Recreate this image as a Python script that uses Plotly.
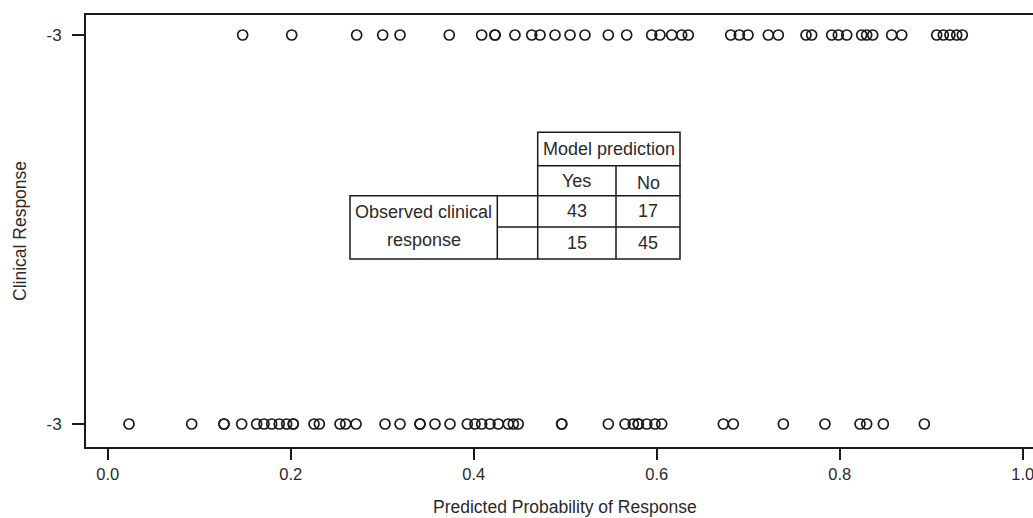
import plotly.graph_objects as go

# ---------------- data ----------------
# predicted probability of response, observed responders (top row)
responders_prob = [0.1475, 0.2011, 0.2721, 0.3005, 0.3195, 0.3733, 0.4087, 0.4233, 0.4233,
                   0.4451, 0.4634, 0.4725, 0.4889, 0.5053, 0.5216, 0.5471, 0.5672, 0.5945,
                   0.6036, 0.6164, 0.6273, 0.6345, 0.6809, 0.6903, 0.6998, 0.7220, 0.7329,
                   0.7632, 0.7694, 0.7913, 0.7985, 0.8077, 0.8240, 0.8295, 0.8361, 0.8568,
                   0.8678, 0.9060, 0.9132, 0.9205, 0.9279, 0.9340]
# predicted probability of response, observed non-responders (bottom row)
nonresponders_prob = [0.0233, 0.0918, 0.1271, 0.1271, 0.1464, 0.1628, 0.1708, 0.1792, 0.1875,
                      0.1956, 0.2028, 0.2028, 0.2255, 0.2313, 0.2539, 0.2601, 0.2714, 0.3031,
                      0.3195, 0.3413, 0.3413, 0.3577, 0.3741, 0.3930, 0.4014, 0.4087, 0.4178,
                      0.4269, 0.4378, 0.4433, 0.4487, 0.4962, 0.4962, 0.5471, 0.5654, 0.5744,
                      0.5799, 0.5799, 0.5891, 0.5981, 0.6055, 0.6728, 0.6837, 0.7384, 0.7839,
                      0.8222, 0.8295, 0.8477, 0.8925]
row_values = [1, 0]              # y level of responders / non-responders
y_tick_labels = ["-3", "-3"]
x_tick_values = [0.0, 0.2, 0.4, 0.6, 0.8, 1.0]
x_tick_labels = ["0.0", "0.2", "0.4", "0.6", "0.8", "1.0"]

table_header = "Model prediction"
table_cols = ["Yes", "No"]
table_row_label = ["Observed clinical", "response"]
table_counts = [[43, 17], [15, 45]]

x_title = "Predicted Probability of Response"
y_title = "Clinical Response"

# ---------------- layout geometry (pixels) ----------------
W, H = 1033, 518
L, R, T, B = 86, 1033, 15, 447
X0PX, XSCALE = 107.7, 915.0     # pixel of x=0, pixels per unit
Y0PX, Y1PX = 424.0, 35.0        # pixel of y=0 and y=1

def px(x):
    return (x - L) / (R - L)

def py(y):
    return (B - y) / (B - T)

FONT = "Liberation Sans, Arial, sans-serif"
INK = "#1a1a1a"
TXT = "#2a2a2a"

fig = go.Figure()
for xs, yv in ((responders_prob, row_values[0]), (nonresponders_prob, row_values[1])):
    fig.add_trace(go.Scatter(
        x=xs, y=[yv] * len(xs),
        mode="markers",
        marker=dict(symbol="circle-open", size=10, color=INK, line=dict(width=1.7, color=INK)),
        showlegend=False, hoverinfo="x"))

yunit = Y0PX - Y1PX
fig.update_layout(
    width=W, height=H,
    margin=dict(l=L, r=W - R, t=T, b=H - B, pad=0),
    paper_bgcolor="white", plot_bgcolor="white",
    font=dict(family=FONT, size=16.5, color=TXT),
    xaxis=dict(
        range=[(L - X0PX) / XSCALE, (R - X0PX) / XSCALE],
        tickvals=x_tick_values, ticktext=x_tick_labels,
        ticks="outside", ticklen=11, tickwidth=1.5, tickcolor=INK,
        ticklabeloverflow="allow",
        showline=True, linewidth=2, linecolor=INK, mirror=True,
        showgrid=False, zeroline=False, fixedrange=True),
    yaxis=dict(
        range=[-(B - Y0PX) / yunit, 1 + (Y1PX - T) / yunit],
        tickvals=row_values, ticktext=y_tick_labels,
        ticks="outside", ticklen=12, tickwidth=1.5, tickcolor=INK,
        ticklabelstandoff=7, tickfont=dict(size=17),
        showline=True, linewidth=2, linecolor=INK, mirror=False,
        showgrid=False, zeroline=False, fixedrange=True),
)

# axis titles
fig.add_annotation(text=x_title, xref="x", yref="paper", x=0.5, y=py(507),
                   showarrow=False, xanchor="center", yanchor="middle",
                   font=dict(size=17.5, color=TXT))
fig.add_annotation(text=y_title, xref="paper", yref="paper", x=px(20), y=py(231),
                   showarrow=False, xanchor="center", yanchor="middle", textangle=-90,
                   font=dict(size=17.5, color=TXT))

# ---------------- contingency table inset ----------------
tl = dict(color=INK, width=1.5)
xa, xb, xc, xd, xe = 350.0, 497.3, 537.7, 616.0, 680.0
ya, yb, yc, yd, ye = 132.3, 165.7, 195.7, 227.0, 259.0

def rect(x0, y0, x1, y1):
    fig.add_shape(type="rect", xref="paper", yref="paper",
                  x0=px(x0), x1=px(x1), y0=py(y1), y1=py(y0),
                  line=tl, fillcolor="white", layer="above")

def line(x0, y0, x1, y1):
    fig.add_shape(type="line", xref="paper", yref="paper",
                  x0=px(x0), x1=px(x1), y0=py(y0), y1=py(y1), line=tl, layer="above")

rect(xc, ya, xe, yb)
rect(xc, yb, xe, yc)
rect(xa, yc, xe, ye)
line(xd, yb, xd, ye)
line(xb, yc, xb, ye)
line(xc, yc, xc, ye)
line(xb, yd, xe, yd)

def txt(s, x, y, size=18):
    fig.add_annotation(text=s, xref="paper", yref="paper", x=px(x), y=py(y),
                       showarrow=False, xanchor="center", yanchor="middle",
                       font=dict(size=size, color=TXT))

txt(table_header, (xc + xe) / 2, (ya + yb) / 2)
txt(table_cols[0], (xc + xd) / 2, (yb + yc) / 2)
txt(table_cols[1], (xd + xe) / 2, (yb + yc) / 2 + 2)
txt(table_row_label[0], (xa + xb) / 2, 212)
txt(table_row_label[1], (xa + xb) / 2, 240)
for i, row in enumerate(table_counts):
    yy = (yc + yd) / 2 if i == 0 else (yd + ye) / 2
    txt(str(row[0]), (xc + xd) / 2, yy)
    txt(str(row[1]), (xd + xe) / 2, yy)

fig.write_html("out.html")
